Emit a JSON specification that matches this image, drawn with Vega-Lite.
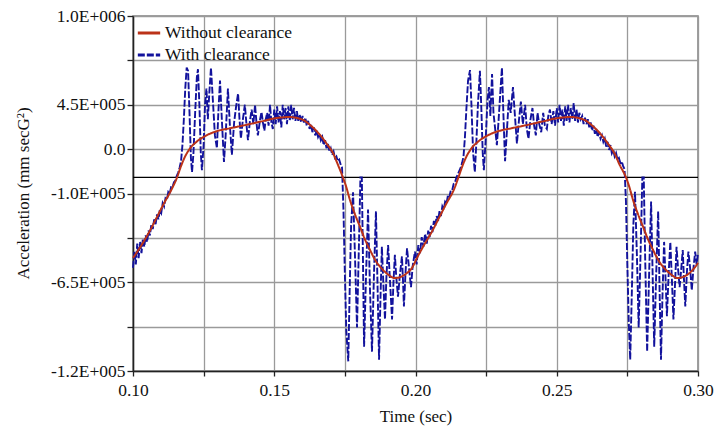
{
  "$schema": "https://vega.github.io/schema/vega-lite/v6.json",
  "width": 565,
  "height": 355,
  "autosize": {"type": "none"},
  "padding": {"left": 133, "top": 16, "right": 16, "bottom": 58},
  "background": "white",
  "config": {
    "font": "Liberation Serif",
    "view": {"stroke": "#808080", "strokeWidth": 1.5},
    "axis": {
      "labelFont": "Liberation Serif", "titleFont": "Liberation Serif",
      "labelFontSize": 17.5, "titleFontSize": 17, "labelColor": "#111", "titleColor": "#111",
      "titleFontWeight": "normal", "gridColor": "#9a9a9a", "gridWidth": 1.3, "gridOpacity": 1,
      "domainColor": "#222", "domainWidth": 1.5, "tickColor": "#222", "tickWidth": 1.3
    },
    "legend": {
      "labelFont": "Liberation Serif", "labelFontSize": 17.5, "labelColor": "#111",
      "padding": 0, "rowPadding": 0, "labelOffset": 3
    }
  },
  "datasets": {
    "zero": [{"v": 0}],
    "red": [
      {"t":0.100,"v":-500000},{"t":0.103,"v":-420000},{"t":0.106,"v":-330000},{"t":0.1085,"v":-245000},{"t":0.111,"v":-160000},{"t":0.1135,"v":-80000},{"t":0.1156,"v":0},{"t":0.117,"v":70000},{"t":0.1184,"v":128000},{"t":0.120,"v":175000},{"t":0.1226,"v":222000},{"t":0.1262,"v":262000},{"t":0.130,"v":288000},{"t":0.1343,"v":304000},{"t":0.140,"v":325000},{"t":0.145,"v":345000},{"t":0.151,"v":368000},{"t":0.1556,"v":374000},{"t":0.158,"v":368000},{"t":0.1602,"v":356000},{"t":0.163,"v":320000},{"t":0.1662,"v":263000},{"t":0.1685,"v":210000},{"t":0.1708,"v":150000},{"t":0.1725,"v":80000},{"t":0.1743,"v":0},{"t":0.1755,"v":-60000},{"t":0.1768,"v":-140000},{"t":0.1786,"v":-230000},{"t":0.1804,"v":-308000},{"t":0.182,"v":-380000},{"t":0.1839,"v":-450000},{"t":0.186,"v":-520000},{"t":0.1885,"v":-574000},{"t":0.1905,"v":-605000},{"t":0.1927,"v":-624000},{"t":0.195,"v":-615000},{"t":0.197,"v":-593000},{"t":0.1988,"v":-560000},
      {"t":0.2005,"v":-500000},{"t":0.203,"v":-420000},{"t":0.206,"v":-330000},{"t":0.2085,"v":-245000},{"t":0.211,"v":-160000},{"t":0.2135,"v":-80000},{"t":0.2152,"v":0},{"t":0.2166,"v":70000},{"t":0.218,"v":128000},{"t":0.2196,"v":175000},{"t":0.2222,"v":222000},{"t":0.2258,"v":262000},{"t":0.2296,"v":288000},{"t":0.2339,"v":304000},{"t":0.2396,"v":325000},{"t":0.2446,"v":345000},{"t":0.2506,"v":368000},{"t":0.2552,"v":374000},{"t":0.2576,"v":368000},{"t":0.2598,"v":356000},{"t":0.2626,"v":320000},{"t":0.2658,"v":263000},{"t":0.2681,"v":210000},{"t":0.2704,"v":150000},{"t":0.2722,"v":80000},{"t":0.2745,"v":0},{"t":0.2757,"v":-60000},{"t":0.277,"v":-140000},{"t":0.2788,"v":-230000},{"t":0.2806,"v":-308000},{"t":0.2822,"v":-380000},{"t":0.2841,"v":-450000},{"t":0.2862,"v":-520000},{"t":0.2887,"v":-574000},{"t":0.2907,"v":-605000},{"t":0.2927,"v":-624000},{"t":0.295,"v":-615000},{"t":0.297,"v":-593000},{"t":0.2988,"v":-560000},{"t":0.300,"v":-530000}
    ],
    "blue": [
      {"t":0.1000,"v":-560000},{"t":0.1005,"v":-460000},{"t":0.1010,"v":-540000},{"t":0.1015,"v":-410000},{"t":0.1020,"v":-500000},{"t":0.1025,"v":-400000},{"t":0.1030,"v":-470000},{"t":0.1035,"v":-380000},{"t":0.1040,"v":-430000},{"t":0.1045,"v":-360000},{"t":0.1050,"v":-400000},{"t":0.1055,"v":-330000},{"t":0.1060,"v":-360000},{"t":0.1065,"v":-290000},{"t":0.1070,"v":-320000},{"t":0.1075,"v":-260000},{"t":0.1080,"v":-290000},{"t":0.1085,"v":-230000},{"t":0.1090,"v":-260000},{"t":0.1095,"v":-200000},{"t":0.1100,"v":-220000},{"t":0.1105,"v":-160000},{"t":0.1110,"v":-180000},{"t":0.1115,"v":-130000},{"t":0.1120,"v":-140000},{"t":0.1125,"v":-90000},{"t":0.1130,"v":-100000},{"t":0.1135,"v":-60000},{"t":0.1140,"v":-60000},{"t":0.1145,"v":-30000},{"t":0.1150,"v":-20000},{"t":0.1155,"v":10000},{"t":0.1160,"v":30000},{"t":0.1165,"v":60000},{"t":0.1170,"v":100000},{"t":0.1175,"v":200000},{"t":0.1180,"v":360000},{"t":0.1185,"v":550000},{"t":0.1190,"v":680000},{"t":0.1195,"v":660000},{"t":0.1200,"v":400000},{"t":0.1205,"v":120000},{"t":0.1209,"v":33000},{"t":0.1214,"v":150000},{"t":0.1220,"v":400000},{"t":0.1226,"v":620000},{"t":0.1230,"v":670000},{"t":0.1235,"v":450000},{"t":0.1240,"v":150000},{"t":0.1244,"v":45000},{"t":0.1250,"v":200000},{"t":0.1255,"v":450000},{"t":0.1260,"v":550000},{"t":0.1265,"v":360000},{"t":0.1270,"v":520000},{"t":0.1276,"v":680000},{"t":0.1282,"v":500000},{"t":0.1290,"v":260000},{"t":0.1297,"v":180000},{"t":0.1302,"v":400000},{"t":0.1308,"v":600000},{"t":0.1315,"v":340000},{"t":0.1322,"v":95000},{"t":0.1328,"v":260000},{"t":0.1336,"v":550000},{"t":0.1343,"v":320000},{"t":0.1350,"v":140000},{"t":0.1358,"v":340000},{"t":0.1365,"v":440000},{"t":0.1372,"v":520000},{"t":0.1377,"v":360000},{"t":0.1382,"v":240000},{"t":0.1389,"v":360000},{"t":0.1396,"v":450000},{"t":0.1402,"v":320000},{"t":0.1407,"v":230000},{"t":0.1414,"v":350000},{"t":0.1420,"v":420000},{"t":0.1426,"v":330000},{"t":0.1432,"v":450000},{"t":0.1437,"v":340000},{"t":0.1442,"v":260000},{"t":0.1450,"v":360000},{"t":0.1455,"v":405000},{"t":0.1460,"v":340000},{"t":0.1465,"v":290000},{"t":0.1470,"v":360000},{"t":0.1475,"v":400000},{"t":0.1480,"v":320000},{"t":0.1485,"v":450000},{"t":0.1490,"v":340000},{"t":0.1495,"v":300000},
      {"t":0.1500,"v":420000},{"t":0.1505,"v":330000},{"t":0.1510,"v":440000},{"t":0.1515,"v":340000},{"t":0.1520,"v":410000},{"t":0.1525,"v":310000},{"t":0.1530,"v":450000},{"t":0.1535,"v":360000},{"t":0.1540,"v":430000},{"t":0.1545,"v":330000},{"t":0.1550,"v":440000},{"t":0.1555,"v":350000},{"t":0.1560,"v":450000},{"t":0.1565,"v":360000},{"t":0.1570,"v":430000},{"t":0.1575,"v":350000},{"t":0.1580,"v":410000},{"t":0.1585,"v":350000},{"t":0.1590,"v":390000},{"t":0.1595,"v":340000},{"t":0.1600,"v":380000},{"t":0.1605,"v":340000},{"t":0.1610,"v":370000},{"t":0.1615,"v":320000},{"t":0.1620,"v":350000},{"t":0.1625,"v":300000},{"t":0.1630,"v":330000},{"t":0.1635,"v":280000},{"t":0.1640,"v":310000},{"t":0.1645,"v":260000},{"t":0.1650,"v":290000},{"t":0.1655,"v":250000},{"t":0.1660,"v":270000},{"t":0.1665,"v":230000},{"t":0.1670,"v":250000},{"t":0.1675,"v":200000},{"t":0.1680,"v":230000},{"t":0.1685,"v":180000},{"t":0.1690,"v":210000},{"t":0.1695,"v":160000},{"t":0.1700,"v":180000},{"t":0.1705,"v":140000},{"t":0.1710,"v":160000},{"t":0.1715,"v":120000},{"t":0.1720,"v":130000},{"t":0.1725,"v":100000},{"t":0.1730,"v":110000},{"t":0.1735,"v":80000},{"t":0.1740,"v":60000},{"t":0.1745,"v":-200000},{"t":0.1750,"v":-600000},{"t":0.1755,"v":-950000},{"t":0.1762,"v":-1140000},{"t":0.1767,"v":-700000},{"t":0.1772,"v":-300000},{"t":0.1779,"v":-93000},{"t":0.1786,"v":-500000},{"t":0.1793,"v":-930000},{"t":0.1800,"v":-400000},{"t":0.1805,"v":0},{"t":0.1810,"v":0},{"t":0.1814,"v":-500000},{"t":0.1818,"v":-1050000},{"t":0.1825,"v":-600000},{"t":0.1832,"v":-200000},{"t":0.1839,"v":-700000},{"t":0.1846,"v":-1080000},{"t":0.1853,"v":-600000},{"t":0.1860,"v":-210000},{"t":0.1866,"v":-700000},{"t":0.1871,"v":-1130000},{"t":0.1876,"v":-750000},{"t":0.1881,"v":-430000},{"t":0.1886,"v":-650000},{"t":0.1892,"v":-880000},{"t":0.1897,"v":-620000},{"t":0.1903,"v":-420000},{"t":0.1910,"v":-650000},{"t":0.1917,"v":-880000},{"t":0.1922,"v":-650000},{"t":0.1927,"v":-480000},{"t":0.1932,"v":-620000},{"t":0.1938,"v":-740000},{"t":0.1945,"v":-600000},{"t":0.1952,"v":-490000},{"t":0.1956,"v":-650000},{"t":0.1959,"v":-800000},{"t":0.1965,"v":-580000},{"t":0.1970,"v":-440000},{"t":0.1977,"v":-560000},{"t":0.1984,"v":-680000},{"t":0.1990,"v":-550000},{"t":0.1998,"v":-460000},{"t":0.2004,"v":-540000},{"t":0.2010,"v":-420000},
      {"t":0.2016,"v":-470000},{"t":0.2022,"v":-370000},{"t":0.2028,"v":-430000},{"t":0.2034,"v":-350000},{"t":0.2040,"v":-410000},{"t":0.2045,"v":-330000},{"t":0.2050,"v":-370000},{"t":0.2055,"v":-300000},{"t":0.2060,"v":-340000},{"t":0.2065,"v":-270000},{"t":0.2070,"v":-300000},{"t":0.2075,"v":-240000},{"t":0.2080,"v":-270000},{"t":0.2085,"v":-210000},{"t":0.2090,"v":-240000},{"t":0.2095,"v":-180000},{"t":0.2100,"v":-200000},{"t":0.2105,"v":-150000},{"t":0.2110,"v":-160000},{"t":0.2115,"v":-110000},{"t":0.2120,"v":-120000},{"t":0.2125,"v":-80000},{"t":0.2130,"v":-80000},{"t":0.2135,"v":-40000},{"t":0.2140,"v":-30000},{"t":0.2145,"v":0},{"t":0.2150,"v":20000},{"t":0.2155,"v":40000},{"t":0.2160,"v":60000},{"t":0.2165,"v":90000},{"t":0.2170,"v":130000},{"t":0.2175,"v":250000},{"t":0.2180,"v":420000},{"t":0.2186,"v":600000},{"t":0.2193,"v":665000},{"t":0.2198,"v":450000},{"t":0.2204,"v":150000},{"t":0.2210,"v":33000},{"t":0.2215,"v":200000},{"t":0.2221,"v":450000},{"t":0.2228,"v":660000},{"t":0.2233,"v":430000},{"t":0.2238,"v":150000},{"t":0.2242,"v":45000},{"t":0.2248,"v":220000},{"t":0.2255,"v":480000},{"t":0.2260,"v":560000},{"t":0.2265,"v":380000},{"t":0.2271,"v":640000},{"t":0.2276,"v":400000},{"t":0.2282,"v":300000},{"t":0.2288,"v":200000},{"t":0.2294,"v":350000},{"t":0.2300,"v":520000},{"t":0.2306,"v":680000},{"t":0.2311,"v":400000},{"t":0.2317,"v":100000},{"t":0.2324,"v":300000},{"t":0.2330,"v":480000},{"t":0.2337,"v":400000},{"t":0.2345,"v":560000},{"t":0.2352,"v":380000},{"t":0.2359,"v":210000},{"t":0.2366,"v":350000},{"t":0.2373,"v":470000},{"t":0.2380,"v":330000},{"t":0.2388,"v":450000},{"t":0.2394,"v":300000},{"t":0.2400,"v":240000},{"t":0.2407,"v":360000},{"t":0.2414,"v":430000},{"t":0.2420,"v":320000},{"t":0.2426,"v":260000},{"t":0.2432,"v":400000},{"t":0.2438,"v":330000},{"t":0.2445,"v":280000},{"t":0.2452,"v":400000},{"t":0.2458,"v":320000},{"t":0.2465,"v":300000},{"t":0.2470,"v":380000},{"t":0.2476,"v":420000},{"t":0.2482,"v":330000},{"t":0.2488,"v":410000},{"t":0.2494,"v":320000},
      {"t":0.2500,"v":430000},{"t":0.2505,"v":340000},{"t":0.2510,"v":450000},{"t":0.2515,"v":350000},{"t":0.2520,"v":420000},{"t":0.2525,"v":320000},{"t":0.2530,"v":440000},{"t":0.2535,"v":350000},{"t":0.2540,"v":450000},{"t":0.2545,"v":340000},{"t":0.2550,"v":430000},{"t":0.2555,"v":360000},{"t":0.2560,"v":460000},{"t":0.2565,"v":350000},{"t":0.2570,"v":420000},{"t":0.2575,"v":340000},{"t":0.2580,"v":400000},{"t":0.2585,"v":360000},{"t":0.2590,"v":380000},{"t":0.2595,"v":330000},{"t":0.2600,"v":370000},{"t":0.2605,"v":330000},{"t":0.2610,"v":360000},{"t":0.2615,"v":310000},{"t":0.2620,"v":340000},{"t":0.2625,"v":290000},{"t":0.2630,"v":320000},{"t":0.2635,"v":270000},{"t":0.2640,"v":300000},{"t":0.2645,"v":250000},{"t":0.2650,"v":280000},{"t":0.2655,"v":240000},{"t":0.2660,"v":260000},{"t":0.2665,"v":220000},{"t":0.2670,"v":240000},{"t":0.2675,"v":190000},{"t":0.2680,"v":220000},{"t":0.2685,"v":170000},{"t":0.2690,"v":200000},{"t":0.2695,"v":150000},{"t":0.2700,"v":170000},{"t":0.2705,"v":130000},{"t":0.2710,"v":150000},{"t":0.2715,"v":110000},{"t":0.2720,"v":120000},{"t":0.2725,"v":90000},{"t":0.2730,"v":100000},{"t":0.2735,"v":70000},{"t":0.2740,"v":50000},{"t":0.2745,"v":-150000},{"t":0.2750,"v":-550000},{"t":0.2755,"v":-900000},{"t":0.2760,"v":-1130000},{"t":0.2766,"v":-700000},{"t":0.2771,"v":-300000},{"t":0.2777,"v":-90000},{"t":0.2784,"v":-500000},{"t":0.2790,"v":-930000},{"t":0.2797,"v":-450000},{"t":0.2803,"v":0},{"t":0.2808,"v":0},{"t":0.2813,"v":-500000},{"t":0.2820,"v":-1080000},{"t":0.2827,"v":-600000},{"t":0.2834,"v":-150000},{"t":0.2840,"v":-650000},{"t":0.2845,"v":-1050000},{"t":0.2852,"v":-600000},{"t":0.2859,"v":-210000},{"t":0.2864,"v":-700000},{"t":0.2869,"v":-1130000},{"t":0.2874,"v":-750000},{"t":0.2880,"v":-400000},{"t":0.2885,"v":-620000},{"t":0.2890,"v":-860000},{"t":0.2896,"v":-600000},{"t":0.2902,"v":-400000},{"t":0.2908,"v":-650000},{"t":0.2913,"v":-880000},{"t":0.2919,"v":-650000},{"t":0.2924,"v":-430000},{"t":0.2930,"v":-580000},{"t":0.2935,"v":-680000},{"t":0.2941,"v":-560000},{"t":0.2946,"v":-450000},{"t":0.2950,"v":-620000},{"t":0.2955,"v":-800000},{"t":0.2961,"v":-580000},{"t":0.2966,"v":-460000},{"t":0.2972,"v":-560000},{"t":0.2978,"v":-700000},{"t":0.2984,"v":-560000},{"t":0.2990,"v":-460000},{"t":0.2995,"v":-540000},{"t":0.3000,"v":-470000}
    ]
  },
  "layer": [
    {
      "data": {"name": "zero"},
      "mark": {"type": "rule", "color": "#000000", "strokeWidth": 1.3},
      "encoding": {
        "y": {"field": "v", "type": "quantitative",
          "scale": {"domain": [-1200000, 1000000], "nice": false, "zero": false},
          "axis": {"values": [-1200000, -925000, -650000, -375000, -100000, 175000, 450000, 725000, 1000000],
            "labelExpr": "datum.value == 1000000 ? '1.0E+006' : datum.value == 450000 ? '4.5E+005' : datum.value == 175000 ? '0.0' : datum.value == -100000 ? '-1.0E+005' : datum.value == -650000 ? '-6.5E+005' : datum.value == -1200000 ? '-1.2E+005' : ''",
            "tickSize": 6, "labelPadding": 2, "title": "Acceleration (mm secG²)", "titleX": -110, "titleY": 177, "titleAngle": 270, "titleAlign": "center", "titleBaseline": "middle"}}
      }
    },
    {
      "data": {"name": "blue"},
      "mark": {"type": "line", "strokeWidth": 1.9},
      "encoding": {
        "x": {"field": "t", "type": "quantitative",
          "scale": {"domain": [0.1, 0.3], "nice": false, "zero": false},
          "axis": {"values": [0.1, 0.125, 0.15, 0.175, 0.2, 0.225, 0.25, 0.275, 0.3],
            "labelExpr": "round(datum.value * 1000) % 50 == 0 ? format(datum.value, '.2f') : ''",
            "labelFlush": false, "tickSize": 5, "labelPadding": 5, "title": "Time (sec)", "titlePadding": 10}},
        "y": {"field": "v", "type": "quantitative",
          "scale": {"domain": [-1200000, 1000000], "nice": false, "zero": false},
          "axis": {"values": [-1200000, -925000, -650000, -375000, -100000, 175000, 450000, 725000, 1000000],
            "labelExpr": "datum.value == 1000000 ? '1.0E+006' : datum.value == 450000 ? '4.5E+005' : datum.value == 175000 ? '0.0' : datum.value == -100000 ? '-1.0E+005' : datum.value == -650000 ? '-6.5E+005' : datum.value == -1200000 ? '-1.2E+005' : ''",
            "tickSize": 6, "labelPadding": 2, "title": "Acceleration (mm secG²)", "titleX": -110, "titleY": 177, "titleAngle": 270, "titleAlign": "center", "titleBaseline": "middle"}},
        "color": {"datum": "With clearance",
          "scale": {"domain": ["Without clearance", "With clearance"], "range": ["#bb3218", "#12129c"]},
          "legend": {"orient": "none", "legendX": 3, "legendY": 4, "title": null, "symbolType": "stroke", "symbolSize": 500, "symbolStrokeWidth": 3}},
        "strokeDash": {"datum": "With clearance",
          "scale": {"domain": ["Without clearance", "With clearance"], "range": [[1, 0], [7, 2]]},
          "legend": {"orient": "none", "legendX": 3, "legendY": 4, "title": null, "symbolType": "stroke", "symbolSize": 500, "symbolStrokeWidth": 3}}
      }
    },
    {
      "data": {"name": "red"},
      "mark": {"type": "line", "strokeWidth": 2, "interpolate": "monotone"},
      "encoding": {
        "x": {"field": "t", "type": "quantitative",
          "scale": {"domain": [0.1, 0.3], "nice": false, "zero": false},
          "axis": {"values": [0.1, 0.125, 0.15, 0.175, 0.2, 0.225, 0.25, 0.275, 0.3],
            "labelExpr": "round(datum.value * 1000) % 50 == 0 ? format(datum.value, '.2f') : ''",
            "labelFlush": false, "tickSize": 5, "labelPadding": 5, "title": "Time (sec)", "titlePadding": 10}},
        "y": {"field": "v", "type": "quantitative",
          "scale": {"domain": [-1200000, 1000000], "nice": false, "zero": false},
          "axis": {"values": [-1200000, -925000, -650000, -375000, -100000, 175000, 450000, 725000, 1000000],
            "labelExpr": "datum.value == 1000000 ? '1.0E+006' : datum.value == 450000 ? '4.5E+005' : datum.value == 175000 ? '0.0' : datum.value == -100000 ? '-1.0E+005' : datum.value == -650000 ? '-6.5E+005' : datum.value == -1200000 ? '-1.2E+005' : ''",
            "tickSize": 6, "labelPadding": 2, "title": "Acceleration (mm secG²)", "titleX": -110, "titleY": 177, "titleAngle": 270, "titleAlign": "center", "titleBaseline": "middle"}},
        "color": {"datum": "Without clearance",
          "scale": {"domain": ["Without clearance", "With clearance"], "range": ["#bb3218", "#12129c"]},
          "legend": {"orient": "none", "legendX": 3, "legendY": 4, "title": null, "symbolType": "stroke", "symbolSize": 500, "symbolStrokeWidth": 3}},
        "strokeDash": {"datum": "Without clearance",
          "scale": {"domain": ["Without clearance", "With clearance"], "range": [[1, 0], [7, 2]]},
          "legend": {"orient": "none", "legendX": 3, "legendY": 4, "title": null, "symbolType": "stroke", "symbolSize": 500, "symbolStrokeWidth": 3}}
      }
    }
  ]
}
